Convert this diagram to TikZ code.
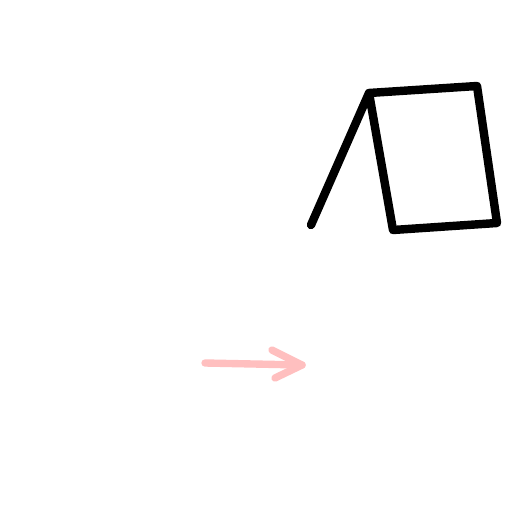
\documentclass[tikz,border=0pt]{standalone}
\begin{document}
\begin{tikzpicture}[x=0.02cm, y=-0.02cm]

  % 画布范围
  \useasboundingbox (0,0) rectangle (510,510);

  % 支点与方框的顶点
  \coordinate (foot) at (311,225);
  \coordinate (apex) at (369,93);
  \coordinate (topright) at (477,86);
  \coordinate (botright) at (497,223);
  \coordinate (botleft) at (393,230);

  % 黑色折线：斜杆加方框
  \draw[black, line width=4.8pt, line cap=round, line join=round]
       (foot) -- (apex) -- (topright) -- (botright) -- (botleft) -- (apex);

  % 粉色箭头
  \coordinate (tail) at (205,363);
  \coordinate (tip) at (302,365);
  \coordinate (armup) at (272,350);
  \coordinate (armdown) at (275,378);
  \draw[red!25!white, line width=4.2pt, line cap=round, line join=round]
       (tail) -- (tip);
  \draw[red!25!white, line width=4.2pt, line cap=round, line join=round]
       (armup) -- (tip) -- (armdown);

\end{tikzpicture}
\end{document}
